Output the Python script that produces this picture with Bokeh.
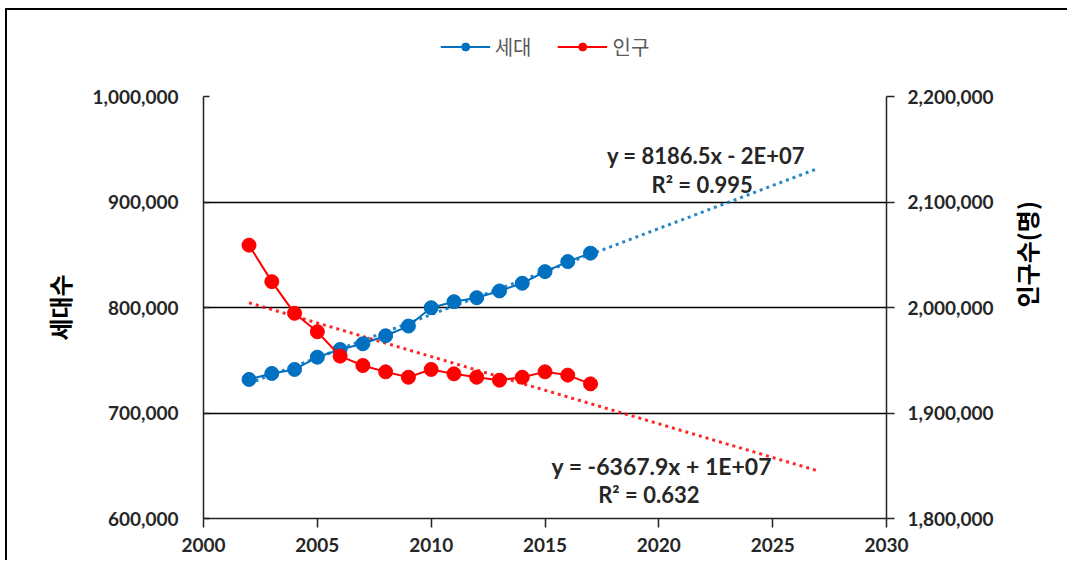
import math
import numpy as np
from bokeh.plotting import figure
from bokeh.layouts import column
from bokeh.models import Range1d, LinearAxis, Legend, LegendItem, Label, NumeralTickFormatter, FixedTicker
from bokeh.embed import file_html
from bokeh.resources import INLINE

years = [2002, 2003, 2004, 2005, 2006, 2007, 2008, 2009, 2010, 2011, 2012, 2013, 2014, 2015, 2016, 2017]
households = [731800, 737500, 741300, 752900, 760200, 765600, 773200, 782400,
              799800, 805500, 809300, 815700, 823000, 834000, 843500, 851500]
population = [2059100, 2024500, 1994500, 1977000, 1953900, 1945000, 1939000, 1933900,
              1941300, 1937100, 1933900, 1931100, 1933900, 1939000, 1935900, 1927600]
series_names = ["세대", "인구"]
left_title = "세대수"
right_title = "인구수(명)"
eq_blue = ["y = 8186.5x - 2E+07", "R² = 0.995"]
eq_red = ["y = -6367.9x + 1E+07", "R² = 0.632"]
trend_end = 2027

BLUE = "#0070C0"
RED = "#FF0000"
TICK_FONT = "Lato"
KFONT = "Noto Sans CJK KR"
W = 1060

p = figure(width=W, height=478, output_backend="svg", toolbar_location=None,
           x_range=Range1d(2000, 2030), y_range=Range1d(600000, 1000000),
           min_border_left=196, min_border_top=14, min_border_right=181, min_border_bottom=42)
p.extra_y_ranges = {"right": Range1d(1800000, 2200000)}
p.outline_line_color = None
p.xgrid.grid_line_color = None
p.ygrid.grid_line_color = "#000000"
p.ygrid.grid_line_width = 1.5
p.ygrid.ticker = FixedTicker(ticks=[600000, 700000, 800000, 900000, 1000000])

def style_axis(ax, tick_in, tick_out, standoff):
    ax.axis_line_color = "#222222"
    ax.axis_line_width = 1.5
    ax.major_tick_line_color = "#222222"
    ax.major_tick_line_width = 1.5
    ax.major_tick_in = tick_in
    ax.major_tick_out = tick_out
    ax.minor_tick_line_color = None
    ax.major_label_text_font = TICK_FONT
    ax.major_label_text_font_size = "19px"
    ax.major_label_text_font_style = "bold"
    ax.major_label_text_color = "#262626"
    ax.major_label_standoff = standoff

xa = p.xaxis[0]
style_axis(xa, 0, 9, 10)
xa.ticker = FixedTicker(ticks=[2000, 2005, 2010, 2015, 2020, 2025, 2030])

ya = p.yaxis[0]
style_axis(ya, 6, 0, 25)
ya.ticker = FixedTicker(ticks=[600000, 700000, 800000, 900000, 1000000])
ya.formatter = NumeralTickFormatter(format="0,0")
ya.axis_label = left_title
ya.axis_label_text_font = KFONT
ya.axis_label_text_font_size = "24px"
ya.axis_label_text_font_style = "bold"
ya.axis_label_text_color = "#000000"
ya.axis_label_standoff = 12

ra = LinearAxis(y_range_name="right")
style_axis(ra, 0, 8, 13)
ra.ticker = FixedTicker(ticks=[1800000, 1900000, 2000000, 2100000, 2200000])
ra.formatter = NumeralTickFormatter(format="0,0")
ra.axis_label = right_title
ra.axis_label_text_font = KFONT
ra.axis_label_text_font_size = "24px"
ra.axis_label_text_font_style = "bold"
ra.axis_label_text_color = "#000000"
ra.axis_label_standoff = 30
if "axis_label_orientation" in ra.properties():
    ra.axis_label_orientation = math.pi / 2
p.add_layout(ra, "right")

# trendlines (least squares from the data)
yr = np.array(years, dtype=float)
tx = np.array([years[0], trend_end], dtype=float)
bfit = np.polyfit(yr, np.array(households, dtype=float), 1)
rfit = np.polyfit(yr, np.array(population, dtype=float), 1)
p.line(tx, np.polyval(bfit, tx), line_color=BLUE, line_width=3, line_dash="3 4", line_alpha=0.85)
p.line(tx, np.polyval(rfit, tx), line_color=RED, line_width=3, line_dash="3 4", y_range_name="right",
       line_alpha=0.85)

# series
p.line(years, households, line_color=BLUE, line_width=2)
p.scatter(years, households, size=14, fill_color=BLUE, line_color=BLUE)
p.line(years, population, line_color=RED, line_width=2, y_range_name="right")
p.scatter(years, population, size=14, fill_color=RED, line_color=RED, y_range_name="right")

# trendline equations
eq_x_blue = [2022.07, 2021.9]
eq_y_blue = [944000, 916600]
eq_x_red = [2020.13, 2019.56]
eq_y_red = [650200, 622700]
eq_sizes = ["22px", "22px", "23px", "22px"]
for txt, xx, yy, fs in zip(eq_blue + eq_red, eq_x_blue + eq_x_red, eq_y_blue + eq_y_red, eq_sizes):
    p.add_layout(Label(x=xx, y=yy, text=txt, text_align="center", text_baseline="middle",
                       text_font=TICK_FONT, text_font_size=fs, text_font_style="bold",
                       text_color="#262626"))

# legend strip above the chart (same series styles; sample glyphs lie outside its ranges)
lf = figure(width=W, height=72, output_backend="svg", toolbar_location=None,
            x_range=Range1d(0, 1), y_range=Range1d(0, 1), x_axis_type=None, y_axis_type=None,
            min_border_left=20, min_border_right=0, min_border_top=0, min_border_bottom=0)
lf.outline_line_color = None
lf.xgrid.grid_line_color = None
lf.ygrid.grid_line_color = None
off = [-10, -9]
lb_l = lf.line(x=off, y=off, line_color=BLUE, line_width=2)
lb_s = lf.scatter(x=off, y=off, size=13, fill_color=BLUE, line_color=BLUE)
lr_l = lf.line(x=off, y=off, line_color=RED, line_width=2)
lr_s = lf.scatter(x=off, y=off, size=13, fill_color=RED, line_color=RED)
legend = Legend(items=[LegendItem(label=series_names[0], renderers=[lb_l, lb_s]),
                       LegendItem(label=series_names[1], renderers=[lr_l, lr_s])],
                orientation="horizontal", location="center",
                glyph_width=50, glyph_height=20, label_text_font=KFONT,
                label_text_font_size="20px", label_text_color="#595959",
                spacing=26, label_standoff=5, padding=4,
                background_fill_alpha=0, border_line_color=None)
lf.add_layout(legend, "center")

layout = column(lf, p, spacing=0,
                styles={"border-left": "2px solid #000", "border-top": "2px solid #000",
                        "position": "relative", "left": "5px", "top": "8px"})

open("out.html", "w").write(file_html(layout, INLINE))
